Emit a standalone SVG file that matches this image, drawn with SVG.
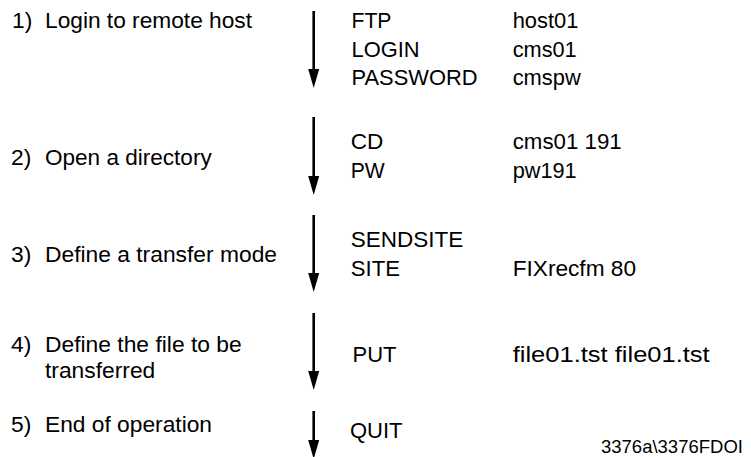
<svg xmlns="http://www.w3.org/2000/svg" width="751" height="457" viewBox="0 0 751 457">
<style>
text{font-family:"Liberation Sans",Arial,sans-serif;fill:#000;}
.s{font-size:22.8px;}
.c{font-size:22px;}
.n{font-size:18.5px;}
.a{stroke:#000;stroke-width:2.6;fill:none;marker-end:url(#ah);}
</style>
<defs>
<marker id="ah" markerUnits="userSpaceOnUse" markerWidth="20" markerHeight="12" refX="9" refY="5.5" orient="auto" viewBox="0 0 20 11">
<path d="M0,0 L19,5.5 L0,11 z" fill="#000"/>
</marker>
</defs>
<rect width="751" height="457" fill="#fff"/>
<g id="connectors">
<line class="a" x1="313.7" y1="11" x2="313.7" y2="78"/>
<line class="a" x1="313.7" y1="117" x2="313.7" y2="185"/>
<line class="a" x1="313.7" y1="215" x2="313.7" y2="282"/>
<line class="a" x1="313.7" y1="313" x2="313.7" y2="380"/>
<line class="a" x1="313.7" y1="411" x2="313.7" y2="449"/>
</g>
<g id="step1">
<text class="s" x="12" y="28">1)</text>
<text class="s" x="45" y="28" textLength="207" lengthAdjust="spacingAndGlyphs">Login to remote host</text>
<text class="c" x="351.5" y="28.3" textLength="40" lengthAdjust="spacingAndGlyphs">FTP</text>
<text class="c" x="512.7" y="28.3" textLength="65.6" lengthAdjust="spacingAndGlyphs">host01</text>
<text class="c" x="351.5" y="56.7" textLength="68" lengthAdjust="spacingAndGlyphs">LOGIN</text>
<text class="c" x="512.7" y="56.7" textLength="64" lengthAdjust="spacingAndGlyphs">cms01</text>
<text class="c" x="351.5" y="84.5" textLength="126" lengthAdjust="spacingAndGlyphs">PASSWORD</text>
<text class="c" x="512.7" y="84.5" textLength="68" lengthAdjust="spacingAndGlyphs">cmspw</text>
</g>
<g id="step2">
<text class="s" x="11" y="165">2)</text>
<text class="s" x="45" y="165" textLength="166.7" lengthAdjust="spacingAndGlyphs">Open a directory</text>
<text class="c" x="350.7" y="149" textLength="32.6" lengthAdjust="spacingAndGlyphs">CD</text>
<text class="c" x="512.7" y="149" textLength="109" lengthAdjust="spacingAndGlyphs">cms01 191</text>
<text class="c" x="350.7" y="178" textLength="34" lengthAdjust="spacingAndGlyphs">PW</text>
<text class="c" x="512.7" y="178" textLength="64" lengthAdjust="spacingAndGlyphs">pw191</text>
</g>
<g id="step3">
<text class="s" x="11" y="262">3)</text>
<text class="s" x="45" y="262" textLength="232" lengthAdjust="spacingAndGlyphs">Define a transfer mode</text>
<text class="c" x="350.7" y="247.3" textLength="112.6" lengthAdjust="spacingAndGlyphs">SENDSITE</text>
<text class="c" x="350.7" y="275.7" textLength="49.3" lengthAdjust="spacingAndGlyphs">SITE</text>
<text class="c" x="512.7" y="275.7" textLength="123.3" lengthAdjust="spacingAndGlyphs">FIXrecfm 80</text>
</g>
<g id="step4">
<text class="s" x="11" y="351.5">4)</text>
<text class="s" x="45" y="351.5" textLength="196.7" lengthAdjust="spacingAndGlyphs">Define the file to be</text>
<text class="s" x="45" y="377.5">transferred</text>
<text class="c" x="352.5" y="362">PUT</text>
<text class="c" x="512.7" y="362" textLength="197" lengthAdjust="spacingAndGlyphs">file01.tst file01.tst</text>
</g>
<g id="step5">
<text class="s" x="11" y="432">5)</text>
<text class="s" x="45" y="432" textLength="167" lengthAdjust="spacingAndGlyphs">End of operation</text>
<text class="c" x="350" y="438">QUIT</text>
</g>
<text class="n" x="601" y="453">3376a\3376FDOI</text>
</svg>
